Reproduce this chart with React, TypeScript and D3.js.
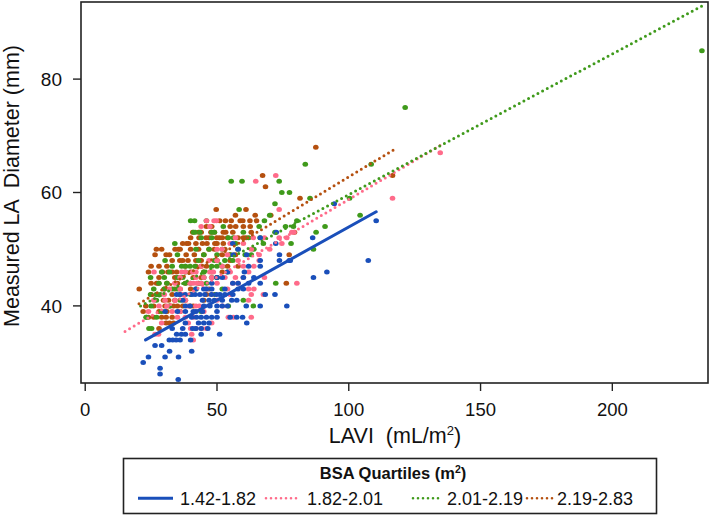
import React from "react";
import * as d3 from "d3";

// ---- Data: [LAVI (mL/m2), Measured LA Diameter (mm)] ----
const groupNames = ["1.42-1.82", "1.82-2.01", "2.01-2.19", "2.19-2.83"];
const groupColors = ["#1a4fba", "#ff6b8a", "#3f9a1b", "#b5500f"];

const blueData: [number, number][] = [
  [22, 30], [24, 31], [26.5, 33], [28.4, 29], [28.4, 28], [30.3, 31], [35.4, 31], [35.3, 27], [40.4, 32], [51, 35],
  [29, 33], [32, 32],
  [31.9, 34], [33.2, 34], [36, 34], [34.5, 34], [40, 34],
  [34.7, 35], [36.5, 35], [38, 35], [44, 35],
  [37, 36], [40.8, 36], [42, 36], [46.5, 36], [44, 36], [33, 36],
  [45, 37], [47, 37], [61.3, 37], [38, 37], [43, 37],
  [40.4, 38], [42.2, 38], [44, 38], [46, 38], [50, 38], [55, 38], [57.5, 38], [59.7, 38], [48, 38],
  [30.3, 39], [35, 39], [38, 39], [42, 39], [44.5, 39], [50, 39], [41, 39],
  [39.8, 40], [47.3, 40], [61.1, 40], [66.4, 40], [76.5, 40], [45, 40], [50, 40], [52, 40], [54, 40], [38, 40],
  [44.5, 41], [47, 41], [55.6, 41], [57.5, 41], [37, 41], [49, 41], [52, 41],
  [34.7, 42], [36, 42], [40.4, 42], [41.7, 42], [43.5, 42], [45.4, 42], [47.9, 42], [49.8, 42], [51.1, 42], [68.3, 42], [72, 42], [53, 42], [38, 42], [56, 42],
  [42, 43], [46, 43], [53, 43], [58, 43], [60, 43], [45, 43], [48, 43],
  [66.4, 44], [48, 44], [56, 44], [58, 44], [62, 44],
  [86.6, 45], [52, 45], [60, 45], [64, 45], [50, 45],
  [60.4, 46], [91.7, 46], [54, 46],
  [66.4, 47], [62, 47],
  [66.4, 48], [73.7, 48], [77.8, 48], [107.4, 48], [77.4, 48],
  [56.2, 49], [61.3, 49], [73.7, 49],
  [58, 50], [56, 51], [72.3, 51],
  [66.4, 52], [86.3, 52], [72.5, 53],
  [110.4, 55], [94.5, 58],
];

const pinkData: [number, number][] = [
  [26.5, 35], [27.8, 35], [41, 34], [40.4, 35], [39.1, 37], [44.2, 36], [29, 37],
  [40, 36], [42, 36], [46, 36],
  [48, 37],
  [38, 38], [41, 38], [54.3, 38], [56.2, 38], [63, 38], [35, 38],
  [33, 39], [36, 39], [24, 39], [45, 39],
  [28, 40], [31, 40], [42, 40], [43.3, 40], [39, 40], [52, 40],
  [30.3, 41], [34.1, 41], [38, 41], [62, 41], [26, 41], [50, 41],
  [37, 42], [55, 42], [67.6, 42], [63, 42], [30, 42], [48, 42],
  [62, 43], [64, 43], [36, 43], [32, 43], [46, 43], [54, 43],
  [39.8, 44], [41, 44], [42.4, 44], [80.3, 44], [50, 44], [56, 44], [34, 44], [44, 44], [58, 44],
  [42, 45], [45, 45], [48, 45], [53, 45], [57, 45], [36, 45], [60, 45], [68, 45],
  [26.1, 46], [36.6, 46], [40.8, 46], [42, 46], [47.3, 46], [48.6, 46], [55, 46], [38, 46], [62, 46],
  [44, 47], [52, 47], [60, 47], [64, 47],
  [47, 48], [50, 48], [58, 48], [66, 48],
  [54, 49], [66, 49],
  [50, 50], [63, 50], [52, 50], [70, 50],
  [74.6, 51], [60, 51], [55, 51],
  [63.8, 52], [73.6, 52], [76.5, 52], [57, 52], [68, 52],
  [78.4, 53], [79.2, 53],
  [47.3, 54], [44, 54],
  [46, 55], [48.9, 55], [49.8, 55],
  [73.6, 57], [64.7, 62], [72.3, 63],
  [116.6, 59], [134.7, 67],
];

const greenData: [number, number][] = [
  [24.2, 36], [25.2, 36], [23.1, 38], [27.1, 38], [23.3, 38],
  [29, 39], [44, 39],
  [54.3, 40], [63.8, 40], [32, 40], [25, 40],
  [36, 41], [60, 41], [27, 41],
  [24.8, 42], [27.1, 42], [28.4, 42], [40, 42], [49, 42],
  [26, 43], [33, 43], [35, 43], [52, 43], [30, 43], [42, 43],
  [72.3, 44], [31, 44], [38, 44], [44, 44], [28, 44], [40, 44], [46, 44],
  [24.8, 45], [30, 45], [35, 45], [45, 45], [50, 45], [37, 45], [48, 45],
  [32, 46], [38, 46], [45, 46], [54, 46], [29, 46],
  [36.6, 47], [38, 47], [39.8, 47], [41.7, 47], [48, 47], [50, 47], [52, 47], [33, 47],
  [30.3, 48], [43, 48], [49, 48], [53, 48], [56, 48],
  [60.7, 49], [63, 49], [45, 49], [35, 49], [50, 49], [55, 49],
  [42, 50], [47, 50], [86.6, 50], [52, 50], [58, 50], [64, 50],
  [57.1, 51], [78.1, 51], [67.6, 51], [34, 51],
  [54.3, 52], [56.2, 52], [66.4, 52], [48, 52], [62, 52], [44, 52],
  [41.1, 53], [41.7, 53], [43.5, 53], [48, 53], [49, 53], [87.6, 53], [72, 53], [60, 53],
  [52.4, 54], [76, 54], [79, 54], [91, 54], [66, 54],
  [40, 55], [41.5, 55], [80.3, 55], [68, 55], [46, 55],
  [104.3, 56], [70, 56], [58.4, 57], [72, 58],
  [85.3, 59], [100.3, 59],
  [74.6, 60], [77.5, 60],
  [55.4, 62], [59.5, 62], [73.6, 62],
  [83.5, 65], [108.5, 65],
  [121.4, 75], [234, 85],
];

const orangeData: [number, number][] = [
  [20.5, 43], [22, 39], [23, 40], [24, 38],
  [30.7, 37], [32, 37], [33.5, 37],
  [29, 38], [30.7, 38], [33, 38], [26, 38], [28, 36],
  [28, 39], [31, 39], [36, 39],
  [26, 40], [30.3, 40], [32.2, 40], [33.5, 40], [35, 40], [39.8, 40], [41, 40], [37, 40],
  [29.7, 41], [31.6, 41], [38, 41], [45, 41], [34, 41],
  [25, 42], [33, 42], [36, 42], [46, 42], [27, 42],
  [30, 43], [34, 43], [40, 43], [47, 43], [36, 43],
  [27.1, 44], [27.8, 44], [35, 44], [43, 44], [76.3, 44], [31, 44], [38, 44], [25, 44],
  [34, 45], [36, 45], [41, 45], [44, 45], [50, 45], [28, 45],
  [24, 46], [29.3, 46], [31.4, 46], [34.7, 46], [45, 46], [52, 46], [33, 46], [40, 46], [48, 46],
  [31, 47], [38, 47], [46, 47], [54, 47], [58, 47], [25, 47], [28, 47], [42, 47], [44, 47],
  [33, 48], [35.9, 48], [37, 48], [42, 48], [44, 48], [50, 48], [55, 48], [39, 48],
  [26.5, 49], [30.7, 49], [38.3, 49], [41.4, 49], [52, 49], [55, 49], [57, 49], [77.4, 49], [32, 49], [45, 49],
  [29, 50], [34.1, 50], [35.4, 50], [40, 50], [43, 50], [49, 50], [53, 50], [27, 50], [36, 50], [47, 50],
  [38.5, 51], [39.2, 51], [44.5, 51], [46.2, 51], [49.2, 51], [52.4, 51], [37, 51], [42, 51], [50, 51],
  [43.2, 52], [45.9, 52], [47, 52], [49.9, 52], [50.9, 52], [60, 52], [61, 52], [40, 52], [52, 52], [54, 52], [58, 52],
  [40.8, 53], [43, 53], [47.7, 53], [49, 53], [52.4, 53], [53.3, 53], [79.4, 53], [44, 53], [56, 53], [63, 53],
  [55, 54], [57.1, 54], [62.6, 54], [46, 54], [48, 54], [60, 54],
  [53.2, 55], [55.4, 55], [58.8, 55], [59.8, 55], [62.5, 55], [51, 55], [65, 55],
  [64.5, 56], [70.4, 56], [57, 56],
  [49.7, 57], [61, 57], [81.5, 59], [68.4, 61],
  [67.3, 63], [116.6, 63], [87.5, 68],
];

// Regression fit line endpoints per group: [[x0, y0], [x1, y1]]
const fitLines: [number, number][][] = [
  [[22.9, 34.0], [110.4, 56.6]],
  [[15.1, 35.5], [134.7, 68.3]],
  [[21, 40.0], [234, 92.9]],
  [[20.4, 40.4], [116.9, 67.5]],
];

const xTicks = [0, 50, 100, 150, 200];
const yTicks = [40, 60, 80];
// order in which point groups are layered (bottom first)
const drawOrder = [3, 2, 1, 0];

const W = 709;
const H = 516;
const FONT = "'Liberation Sans', Arial, Helvetica, sans-serif";

export default function App() {
  const x = d3.scaleLinear().domain([-1.6, 236.3]).range([81, 708]);
  const y = d3.scaleLinear().domain([26.4, 93.6]).range([383, 2]);
  const [x0, x1] = x.range();
  const [y0, y1] = y.range();

  const groups = [blueData, pinkData, greenData, orangeData];
  const line = d3
    .line<[number, number]>()
    .x((d) => x(d[0]))
    .y((d) => y(d[1]));

  const legendItems = [
    { lx0: 138, lx1: 173, tx: 180 },
    { lx0: 266, lx1: 297, tx: 307 },
    { lx0: 413, lx1: 442, tx: 447 },
    { lx0: 527, lx1: 555, tx: 557 },
  ];

  return (
    <svg
      width={W}
      height={H}
      style={{ position: "absolute", left: 0, top: 0, background: "#fff" }}
      fontFamily={FONT}
    >
      <rect x={0} y={0} width={W} height={H} fill="#fff" />
      {/* points */}
      {drawOrder.map((gi) => (
        <g key={gi} fill={groupColors[gi]}>
          {groups[gi].map((d, i) => (
            <ellipse key={i} cx={x(d[0])} cy={y(d[1])} rx={2.8} ry={2.5} />
          ))}
        </g>
      ))}
      {/* fit lines */}
      {fitLines.map((pts, gi) => (
        <path
          key={gi}
          d={line(pts) || ""}
          fill="none"
          stroke={groupColors[gi]}
          strokeWidth={3}
          strokeLinecap="round"
          strokeDasharray={gi === 0 ? undefined : "0 5.3"}
        />
      ))}
      {/* frame */}
      <rect
        x={x0}
        y={y1}
        width={x1 - x0}
        height={y0 - y1}
        fill="none"
        stroke="#222"
        strokeWidth={1.6}
      />
      {/* x axis ticks */}
      {xTicks.map((t) => (
        <g key={t}>
          <line x1={x(t)} x2={x(t)} y1={y0} y2={y0 + 8} stroke="#222" strokeWidth={1.4} />
          <text x={x(t)} y={y0 + 32.5} textAnchor="middle" fontSize={18.5} fill="#111">
            {t}
          </text>
        </g>
      ))}
      {/* y axis ticks */}
      {yTicks.map((t) => (
        <g key={t}>
          <line x1={x0 - 8} x2={x0} y1={y(t)} y2={y(t)} stroke="#222" strokeWidth={1.4} />
          <text x={62} y={y(t) + 6.8} textAnchor="end" fontSize={19} fill="#111">
            {t}
          </text>
        </g>
      ))}
      {/* axis titles */}
      <text x={395} y={443} textAnchor="middle" fontSize={21.5} fill="#111" style={{ whiteSpace: "pre" }}>
        {"LAVI  (mL/m"}
        <tspan fontSize={13} dy={-8}>2</tspan>
        <tspan dy={8}>)</tspan>
      </text>
      <text
        transform={`translate(19, 186) rotate(-90)`}
        textAnchor="middle"
        fontSize={21.5}
        fill="#111"
        style={{ whiteSpace: "pre" }}
      >
        {"Measured LA  Diameter (mm)"}
      </text>
      {/* legend */}
      <rect x={123.5} y={458.5} width={533} height={55} fill="#fff" stroke="#222" strokeWidth={1.6} />
      <text x={393} y={479} textAnchor="middle" fontSize={16.5} fontWeight="bold" fill="#111">
        {"BSA Quartiles (m"}
        <tspan fontSize={10.5} dy={-6}>2</tspan>
        <tspan dy={6}>)</tspan>
      </text>
      {legendItems.map((it, i) => (
        <g key={i}>
          <line
            x1={it.lx0}
            x2={it.lx1}
            y1={498.3}
            y2={498.3}
            stroke={groupColors[i]}
            strokeWidth={i === 0 ? 3 : 2.6}
            strokeLinecap={i === 0 ? "butt" : "round"}
            strokeDasharray={i === 0 ? undefined : "0 5"}
          />
          <text x={it.tx} y={504.5} fontSize={18} fill="#111">
            {groupNames[i]}
          </text>
        </g>
      ))}
    </svg>
  );
}
